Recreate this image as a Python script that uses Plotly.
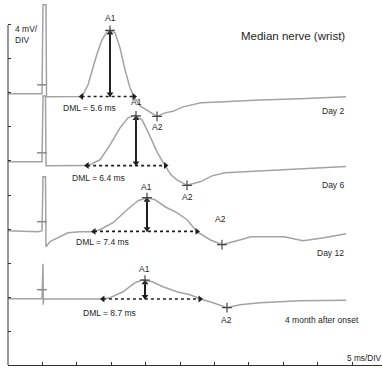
import plotly.graph_objects as go

# ---------------- data (time in ms, amplitude in mV relative to own baseline) ----------------
TRACE_LABELS = ["Day 2", "Day 6", "Day 12", "4 month after onset"]
DML_MS = [5.6, 6.4, 7.4, 8.7]
STIM_MS = 5.1

day2_ms = [0, 4.94, 5.09, 5.52, 5.6, 10.76, 11.63, 12.21, 12.94, 13.66, 14.39, 14.83, 15.55,
           16.28, 17.01, 17.73, 18.31, 19.19, 20.2, 21.66, 22.82, 23.98, 25.44, 26.6, 28.05,
           31.4, 36.63, 42.44, 49.13]
day2_mv = [0, 0, 10.47, 10.47, -0.35, -0.32, 1.06, 2.82, 4.71, 6.35, 7.29, 7.47, 7.18,
           5.41, 2.82, 0.71, -0.32, -1.41, -1.94, -2.65, -2.24, -2.06, -1.53, -1.29, -1.06,
           -0.94, -0.71, -0.59, -0.35]

day6_ms = [0, 4.94, 5.09, 5.45, 5.52, 11.63, 13.37, 14.83, 16.28, 17.44, 18.46, 19.48, 20.35,
           21.66, 22.82, 23.69, 24.56, 26.02, 27.91, 29.65, 31.54, 36.63, 42.44, 49.13]
day6_mv = [0, 0, 7.76, 7.76, -0.47, -0.44, 0.24, 2.0, 4.0, 5.18, 5.47, 4.94, 3.53,
           1.18, -0.44, -1.53, -2.12, -2.76, -2.35, -1.65, -1.29, -1.06, -0.82, -0.55]

day12_ms = [0, 4.36, 4.94, 5.09, 5.45, 5.52, 6.1, 7.56, 8.72, 10.47, 12.35, 13.37, 15.26,
            17.3, 18.9, 20.2, 21.37, 22.82, 24.56, 26.02, 27.18, 27.47, 29.36, 31.1, 33.28,
            35.32, 40.12, 42.88, 45.93, 49.13]
day12_mv = [0, -0.12, 0, 6.35, 6.35, -1.88, -1.29, -0.71, -0.24, -0.12, -0.12, 0.12, 0.94,
            2.47, 3.53, 3.88, 3.65, 2.82, 2.12, 1.29, 0.12, -0.12, -1.06, -1.65, -1.18,
            -0.71, -0.71, -1.18, -0.82, -0.35]

month4_ms = [0, 4.94, 5.09, 5.13, 5.17, 13.66, 14.83, 16.72, 18.46, 19.62, 20.93, 22.53,
             24.56, 26.45, 27.91, 29.8, 31.83, 33.72, 36.63, 42.44, 49.13]
month4_mv = [0, 0, 4.12, -0.71, 0, -0.04, 0.12, 0.82, 1.88, 2.24, 2.0, 1.41,
             0.82, 0.47, 0, -0.47, -1.06, -0.71, -0.47, -0.24, -0.18]

end_ms = [18.31, 22.89, 27.47, 27.91]       # end of the dotted duration line
base_mv = [-0.32, -0.44, -0.08, -0.04]      # level of the dotted line
a1_ms = [14.83, 18.6, 20.2, 19.91]
a1_mv = [7.47, 5.41, 3.88, 2.18]
a2_ms = [21.66, 26.02, 31.1, 31.83]
a2_mv = [-2.65, -2.76, -1.65, -1.06]

X_TICKS = list(range(0, 55, 5))
Y_TICKS = list(range(0, 41, 4))

# ---------------- layout / style ----------------
OFFSET_MV = [31.9, 23.9, 15.8, 7.8]         # vertical display offsets of the traces
X_RANGE = [0, 54.36]
Y_RANGE = [0, 42.94]
TRACE_COLOR = "#a3a3a3"
INK = "#1e1e1e"
FONT = "Liberation Sans, Arial, sans-serif"

A1_SHIFT = [(0, 12.5), (1, 14), (0, 11), (0, 11.5)]
A2_SHIFT = [(0, -10.5), (0, -11.5), (-1, 26), (0, -12)]
DML_SHIFT = [(7.4, -11.3), (11, -12.3), (8, -10.3), (7, -13.7)]
DAY_SHIFT = [(0, -14), (0, -18), (0, -19), (15, -19.5)]

series_ms = [day2_ms, day6_ms, day12_ms, month4_ms]
series_mv = [day2_mv, day6_mv, day12_mv, month4_mv]

fig = go.Figure()
annotations = []

for i in range(4):
    off = OFFSET_MV[i]
    ts, vs = series_ms[i], series_mv[i]
    # main waveform
    fig.add_trace(go.Scatter(x=ts, y=[v + off for v in vs], mode="lines",
                             line=dict(color=TRACE_COLOR, width=1.5), hoverinfo="skip"))
    # stimulus cursor
    fig.add_trace(go.Scatter(x=[4.94], y=[off + 1.06], mode="markers",
                             marker=dict(symbol="line-ew-open", size=7, color="#8a8a8a",
                                         line=dict(color="#8a8a8a", width=1.5)),
                             hoverinfo="skip"))
    onset = STIM_MS + DML_MS[i]
    yb = base_mv[i] + off
    # dotted duration line
    fig.add_trace(go.Scatter(x=[onset, end_ms[i]], y=[yb, yb], mode="lines",
                             line=dict(color=INK, width=1.6, dash="dot"), hoverinfo="skip"))
    fig.add_trace(go.Scatter(x=[onset, end_ms[i]], y=[yb, yb], mode="markers",
                             marker=dict(symbol=["triangle-left", "triangle-right"], size=6,
                                         color=INK), hoverinfo="skip"))
    # amplitude arrow
    ytop = a1_mv[i] + off
    fig.add_trace(go.Scatter(x=[a1_ms[i], a1_ms[i]], y=[ytop - 0.15, yb], mode="lines",
                             line=dict(color=INK, width=2), hoverinfo="skip"))
    fig.add_trace(go.Scatter(x=[a1_ms[i], a1_ms[i]], y=[ytop - 0.3, yb + 0.3], mode="markers",
                             marker=dict(symbol=["triangle-up", "triangle-down"], size=6,
                                         color=INK), hoverinfo="skip"))
    # peak / A2 cursors
    fig.add_trace(go.Scatter(x=[a1_ms[i], a2_ms[i]], y=[ytop, a2_mv[i] + off], mode="markers",
                             marker=dict(symbol="cross-thin-open", size=7, color="#444",
                                         line=dict(color="#444", width=1.2)),
                             hoverinfo="skip"))

    lab = dict(font=dict(family=FONT, size=8.5, color=INK), showarrow=False,
               xref="x", yref="y")
    annotations.append(dict(lab, x=a1_ms[i], y=ytop, text="A1",
                            xshift=A1_SHIFT[i][0], yshift=A1_SHIFT[i][1]))
    annotations.append(dict(lab, x=a2_ms[i], y=a2_mv[i] + off, text="A2",
                            xshift=A2_SHIFT[i][0], yshift=A2_SHIFT[i][1]))
    annotations.append(dict(lab, x=onset, y=yb, text=f"DML = {DML_MS[i]} ms",
                            xshift=DML_SHIFT[i][0], yshift=DML_SHIFT[i][1]))
    annotations.append(dict(lab, x=ts[-1], y=vs[-1] + off, text=TRACE_LABELS[i],
                            xanchor="right", xshift=DAY_SHIFT[i][0], yshift=DAY_SHIFT[i][1]))

annotations.append(dict(x=41.42, y=38.71, xref="x", yref="y", text="Median nerve (wrist)",
                        showarrow=False, font=dict(family=FONT, size=11.5, color=INK)))
annotations.append(dict(x=0.73, y=40.4, xref="x", yref="y", text="4 mV/<br>DIV",
                        showarrow=False, xanchor="left", yanchor="top", align="left",
                        font=dict(family=FONT, size=8.5, color=INK)))
annotations.append(dict(x=49.0, y=0.82, xref="x", yref="y", text="5 ms/DIV",
                        showarrow=False, xanchor="left",
                        font=dict(family=FONT, size=8.3, color=INK)))

fig.update_layout(
    width=382, height=369,
    margin=dict(l=8, r=0, t=0, b=4),
    paper_bgcolor="white", plot_bgcolor="white",
    showlegend=False,
    annotations=annotations,
    shapes=[dict(type="line", xref="paper", yref="paper", x0=0, x1=0, y0=0,
                 y1=40 / Y_RANGE[1], line=dict(color="#333", width=1))],
    xaxis=dict(range=X_RANGE, tickvals=X_TICKS, ticks="inside", ticklen=3,
               tickcolor="#333", showticklabels=False, showgrid=False, zeroline=False,
               showline=True, linecolor="#333", linewidth=1, fixedrange=True),
    yaxis=dict(range=Y_RANGE, tickvals=Y_TICKS, ticks="inside", ticklen=3,
               tickcolor="#333", showticklabels=False, showgrid=False, zeroline=False,
               showline=False, fixedrange=True),
)

fig.write_html("out.html", config={"displayModeBar": False},
               post_script="document.body.style.margin='0';document.body.style.overflow='hidden';")
